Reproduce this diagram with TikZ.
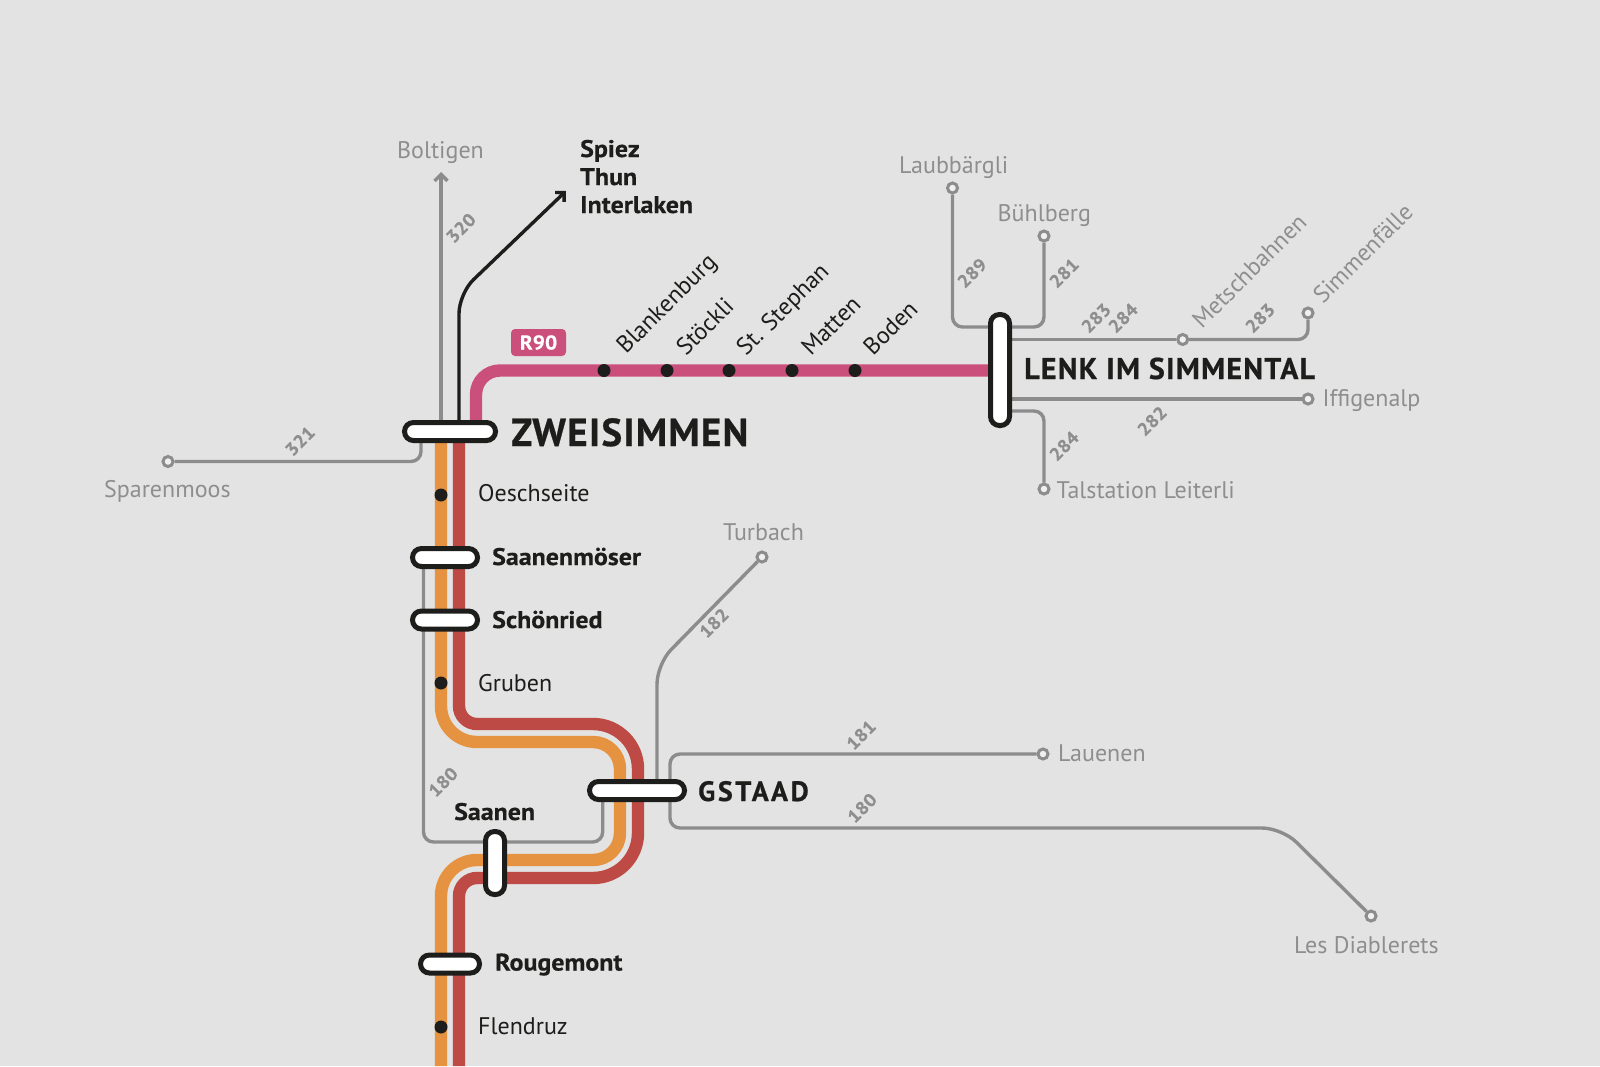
\documentclass[tikz,border=0pt]{standalone}
\usepackage{fontspec}
\usetikzlibrary{arrows.meta}
\setmainfont[BoldFeatures={FakeStretch=1.08,FakeBold=0.4}]{PT Sans}
\newfontfamily\capsfont[BoldFeatures={FakeBold=0.6}]{PT Sans}
\definecolor{bgc}{HTML}{E3E3E3}
\definecolor{greyl}{HTML}{8C8C8C}
\definecolor{greyt}{HTML}{8E8E8E}
\definecolor{blk}{HTML}{1D1D1B}
\definecolor{pinkl}{HTML}{CB4F7B}
\definecolor{orangel}{HTML}{E59340}
\definecolor{redl}{HTML}{BD4A44}
\pgfdeclarelayer{bg}\pgfdeclarelayer{lines}\pgfsetlayers{bg,lines,main}
\tikzset{
 capsule/.style={draw=blk,fill=white,line width=5pt,rounded corners=9pt,inner sep=0pt},
 hcap/.style={capsule,minimum height=18pt,minimum width=#1},
 vcap/.style={capsule,minimum width=19pt,minimum height=#1},
 term/.style={circle,draw=greyl,fill=white!45!bgc,line width=3pt,minimum size=10pt,inner sep=0pt},
 halt/.style={circle,fill=blk,minimum size=13pt,inner sep=0pt},
 gline/.style={draw=greyl,line width=3.4pt,rounded corners=10pt},
 track/.style={line width=12.4pt},
 gtext/.style={text=greyt,anchor=base west,inner sep=0pt,font=\fontsize{24}{28}\selectfont},
 stext/.style={text=blk,anchor=base west,inner sep=0pt,font=\fontsize{24}{28}\selectfont},
 btext/.style={text=blk,anchor=base west,inner sep=0pt,font=\fontsize{24}{28}\selectfont\bfseries},
 num/.style={text=greyt,rotate=45,inner sep=0pt,font=\fontsize{18}{22}\selectfont\bfseries},
 rtext/.style={anchor=base west,rotate=45,inner sep=0pt},
 big/.style={text=blk,anchor=base west,inner sep=0pt},
 barb/.style={-{Straight Barb[length=6.5pt,width=13pt]}},
}
\begin{document}
\begin{tikzpicture}[x=1pt,y=-1pt]
\useasboundingbox (0,0) rectangle (1600,1066);
\begin{pgfonlayer}{bg}\fill[bgc] (0,0) rectangle (1600,1066);\end{pgfonlayer}
% stations
\node[hcap=91pt] (zw) at (450,431.5) {};
\node[vcap=111pt] (lenk) at (1000,370) {};
\node[hcap=95pt] (gst) at (637,790.5) {};
\node[vcap=63pt] (saanen) at (495,863) {};
\node[hcap=65pt] (moes) at (445,557.5) {};
\node[hcap=65pt] (schoen) at (445,620) {};
\node[hcap=59pt] (rouge) at (450,964) {};
% stops on lines
\node[halt] (s1) at (604,370.5) {};
\node[halt] (s2) at (667,370.5) {};
\node[halt] (s3) at (729,370.5) {};
\node[halt] (s4) at (792,370.5) {};
\node[halt] (s5) at (855,370.5) {};
\node[halt] (oe) at (441,495) {};
\node[halt] (gr) at (441,683) {};
\node[halt] (fl) at (441,1027) {};
% terminals
\node[term] (tspar) at (168,461.5) {};
\node[term] (tlaub) at (952.5,188) {};
\node[term] (tbuhl) at (1044,236) {};
\node[term] (tmet) at (1182.7,339.5) {};
\node[term] (tsim) at (1308,313) {};
\node[term] (tiff) at (1308,399) {};
\node[term] (ttal) at (1044,489) {};
\node[term] (ttur) at (762,557) {};
\node[term] (tlau) at (1043,754) {};
\node[term] (tdia) at (1371,916) {};
\coordinate (abolt) at (441,172);
\coordinate (aspiez) at (566,191);
\begin{pgfonlayer}{lines}
% tracks
\draw[pinkl,track,rounded corners=24pt] (476,431.5) -- (476,370.5) -- (lenk.center |- 0,370.5);
\draw[orangel,track] (441,431.5) -- (441,706) arc[start angle=180,end angle=90,radius=36] -- (593,742) arc[start angle=-90,end angle=0,radius=27] -- (620,833) arc[start angle=0,end angle=90,radius=27] -- (477,860) arc[start angle=-90,end angle=-180,radius=36] -- (441,1066);
\draw[redl,track] (459,431.5) -- (459,706) arc[start angle=180,end angle=90,radius=18] -- (593,724) arc[start angle=-90,end angle=0,radius=45] -- (638,833) arc[start angle=0,end angle=90,radius=45] -- (477,878) arc[start angle=-90,end angle=-180,radius=18] -- (459,1066);
% grey connectors
\draw[gline,barb] (zw.center -| abolt) -- (abolt);
\draw[gline] (tspar) -- (421,461.5) -- (421,431.5);
\draw[draw=blk,line width=3.4pt,rounded corners=20pt,barb] (459,431.5) -- (459,293.5) -- (aspiez);
\draw[gline] (423.5,557.5) -- (423.5,842) -- (602.7,842) -- (602.7,790.5);
\draw[gline,rounded corners=20pt] (657,790.5) -- (657,664) -- (ttur);
\draw[gline] (670,790.5) -- (670,754) -- (tlau);
\draw[gline] (670,790.5) -- (670,828) [rounded corners=20pt] -- (1282,828) -- (tdia);
\draw[gline] (tlaub) -- (952.5,327) -- (1000,327);
\draw[gline] (tbuhl) -- (1044,327) -- (1000,327);
\draw[gline] (lenk.center |- tmet) -- (tmet);
\draw[gline] (tmet) -- (1308,339.5) -- (tsim);
\draw[gline] (lenk.center |- tiff) -- (tiff);
\draw[gline] (1000,411) -- (1044,411) -- (ttal);
\end{pgfonlayer}
% R90
\node[fill=pinkl,rounded corners=4pt,minimum width=55pt,minimum height=27pt,inner sep=0pt,text=white,font=\fontsize{20}{20}\selectfont\bfseries] (r90) at (538.5,342.5) {R90};
% labels
\node[big,font=\capsfont\fontsize{39}{39}\selectfont\bfseries\addfontfeature{LetterSpace=3.4}] (lzw) at (511,446) {ZWEISIMMEN};
\node[big,font=\capsfont\fontsize{30}{30}\selectfont\bfseries\addfontfeature{LetterSpace=4.2}] (llenk) at (1024,379) {LENK IM SIMMENTAL};
\node[big,font=\capsfont\fontsize{28}{28}\selectfont\bfseries\addfontfeature{LetterSpace=9.5}] (lgst) at (698,801) {GSTAAD};
\node[btext] (l1) at (580,157) {Spiez};
\node[btext] (l2) at (580,185) {Thun};
\node[btext] (l3) at (580,213) {Interlaken};
\node[btext] (lm) at (492,565) {Saanenmöser};
\node[btext] (ls) at (492,628) {Schönried};
\node[btext] (lr) at (495,970.5) {Rougemont};
\node[btext] (lsa) at (454,820) {Saanen};
\node[stext] (loe) at (478,501.5) {Oeschseite};
\node[stext] (lgr) at (478,691) {Gruben};
\node[stext] (lfl) at (478,1034) {Flendruz};
\node[stext,rtext] (r1) at (626,355) {Blankenburg};
\node[stext,rtext] (r2) at (686,357) {Stöckli};
\node[stext,rtext] (r3) at (746,357) {St. Stephan};
\node[stext,rtext] (r4) at (811,357) {Matten};
\node[stext,rtext] (r5) at (873,357) {Boden};
\node[gtext] (g1) at (397,158) {Boltigen};
\node[gtext] (g2) at (899,173) {Laubbärgli};
\node[gtext] (g3) at (997.5,221) {Bühlberg};
\node[gtext] (g4) at (1322.5,406) {Iffigenalp};
\node[gtext] (g5) at (1056.5,498) {Talstation Leiterli};
\node[gtext] (g6) at (104,497) {Sparenmoos};
\node[gtext] (g7) at (723,540) {Turbach};
\node[gtext] (g8) at (1058,761) {Lauenen};
\node[gtext] (g9) at (1294,953) {Les Diablerets};
\node[gtext,rtext] (g10) at (1202,330) {Metschbahnen};
\node[gtext,rtext] (g11) at (1323,305) {Simmenfälle};
% line numbers
\node[num] (n1) at (461,228) {320};
\node[num] (n2) at (300,441) {321};
\node[num] (n3) at (972,273) {289};
\node[num] (n4) at (1064,273) {281};
\node[num] (n5) at (1096,318) {283};
\node[num] (n6) at (1123,318) {284};
\node[num] (n7) at (1260,318) {283};
\node[num] (n8) at (1064,446) {284};
\node[num] (n9) at (1152,421) {282};
\node[num] (n10) at (714,623) {182};
\node[num] (n11) at (861,735) {181};
\node[num] (n12) at (862,808) {180};
\node[num] (n13) at (443,782) {180};
\end{tikzpicture}
\end{document}
